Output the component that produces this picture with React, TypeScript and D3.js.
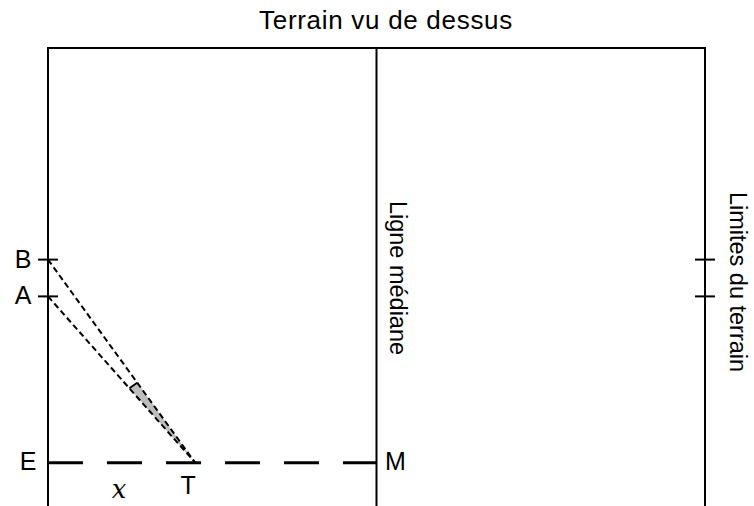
import React, { useRef, useEffect } from "react";
import * as d3 from "d3";

// field coordinates in metres: x = distance from goal line, y = distance from top touchline
const fieldLines = [
  { name: "goal", x: 0 },
  { name: "median", x: 50 },
  { name: "limit", x: 100 },
];
const posts = [
  { label: "B", y: 32.2 },
  { label: "A", y: 37.8 },
];
const lineY = 63.1; // E — M
const tryX = 22.4; // T
const markerFrac = 0.553;

const W = 754;
const H = 506;

export default function App() {
  const svgRef = useRef<SVGSVGElement>(null);

  useEffect(() => {
    const svg = d3.select(svgRef.current);
    svg.selectAll("*").remove();

    const x = d3.scaleLinear().domain([0, 100]).range([48, 705]);
    const y = d3.scaleLinear().domain([0, 70]).range([48, 508]);
    const font = "'Liberation Sans', Arial, sans-serif";

    svg.append("rect").attr("width", W).attr("height", H).attr("fill", "#fff");

    // title
    svg
      .append("text")
      .attr("x", 386)
      .attr("y", 20)
      .attr("dominant-baseline", "central")
      .attr("text-anchor", "middle")
      .attr("font-family", font)
      .attr("font-size", 26)
      .attr("letter-spacing", 0.7)
      .text("Terrain vu de dessus");

    // top touchline
    svg
      .append("line")
      .attr("x1", x(0))
      .attr("x2", x(100))
      .attr("y1", y(0))
      .attr("y2", y(0))
      .attr("stroke", "#000")
      .attr("stroke-width", 2);

    // vertical lines
    svg
      .selectAll(".vline")
      .data(fieldLines)
      .enter()
      .append("line")
      .attr("x1", (d) => x(d.x))
      .attr("x2", (d) => x(d.x))
      .attr("y1", y(0) - 1)
      .attr("y2", H)
      .attr("stroke", "#000")
      .attr("stroke-width", 2);

    // post ticks on both goal lines
    [0, 100].forEach((gx) => {
      svg
        .selectAll(null)
        .data(posts)
        .enter()
        .append("line")
        .attr("x1", x(gx) - 10)
        .attr("x2", x(gx) + 10)
        .attr("y1", (d) => y(d.y))
        .attr("y2", (d) => y(d.y))
        .attr("stroke", "#000")
        .attr("stroke-width", 2);
    });

    svg
      .selectAll(".postLabel")
      .data(posts)
      .enter()
      .append("text")
      .attr("x", x(0) - 25)
      .attr("y", (d) => y(d.y) - 1)
      .attr("dominant-baseline", "central")
      .attr("text-anchor", "middle")
      .attr("font-family", font)
      .attr("font-size", 25)
      .text((d) => d.label);

    // E — M dashed line
    svg
      .append("line")
      .attr("x1", x(0))
      .attr("x2", x(50))
      .attr("y1", y(lineY))
      .attr("y2", y(lineY))
      .attr("stroke", "#000")
      .attr("stroke-width", 3)
      .attr("stroke-dasharray", "35,24");

    const T: [number, number] = [x(tryX), y(lineY)];
    const pA: [number, number] = [x(0), y(posts[1].y)];
    const pB: [number, number] = [x(0), y(posts[0].y)];

    // shaded wedge: point on AT and its perpendicular foot on BT
    const P: [number, number] = [
      pA[0] + (T[0] - pA[0]) * markerFrac,
      pA[1] + (T[1] - pA[1]) * markerFrac,
    ];
    const dx = T[0] - pB[0];
    const dy = T[1] - pB[1];
    const len = Math.hypot(dx, dy);
    const ux = dx / len;
    const uy = dy / len;
    const proj = (P[0] - pB[0]) * ux + (P[1] - pB[1]) * uy;
    const Q: [number, number] = [pB[0] + proj * ux, pB[1] + proj * uy];

    svg
      .append("path")
      .attr("d", d3.line()([P, Q, T]) + "Z")
      .attr("fill", "#bdbdbd");
    svg
      .append("line")
      .attr("x1", P[0])
      .attr("y1", P[1])
      .attr("x2", Q[0])
      .attr("y2", Q[1])
      .attr("stroke", "#000")
      .attr("stroke-width", 1.8);

    // sight lines
    [pB, pA].forEach((p) => {
      svg
        .append("path")
        .attr("d", d3.line()([p, T]))
        .attr("fill", "none")
        .attr("stroke", "#000")
        .attr("stroke-width", 2)
        .attr("stroke-dasharray", "6,3.5");
    });

    // point labels
    const labels = [
      { t: "E", x: x(0) - 20, y: y(lineY) - 2 },
      { t: "M", x: x(50) + 19, y: y(lineY) - 2 },
      { t: "T", x: T[0] - 7, y: y(lineY) + 22 },
    ];
    svg
      .selectAll(".ptLabel")
      .data(labels)
      .enter()
      .append("text")
      .attr("x", (d) => d.x)
      .attr("y", (d) => d.y)
      .attr("dominant-baseline", "central")
      .attr("text-anchor", "middle")
      .attr("font-family", font)
      .attr("font-size", 25)
      .text((d) => d.t);

    svg
      .append("text")
      .attr("x", 119)
      .attr("y", 489)
      .attr("dominant-baseline", "central")
      .attr("text-anchor", "middle")
      .attr("font-family", "'DejaVu Serif', 'Liberation Serif', serif")
      .attr("font-style", "italic")
      .attr("font-size", 26)
      .text("x");

    // rotated line names
    const vLabels = [
      { t: "Ligne médiane", x: 398, y: 278 },
      { t: "Limites du terrain", x: 738, y: 282 },
    ];
    svg
      .selectAll(".vLabel")
      .data(vLabels)
      .enter()
      .append("text")
      .attr("transform", (d) => `translate(${d.x},${d.y}) rotate(90)`)
      .attr("dominant-baseline", "central")
      .attr("text-anchor", "middle")
      .attr("font-family", font)
      .attr("font-size", 23.5)
      .text((d) => d.t);
  }, []);

  return (
    <div style={{ position: "fixed", left: 0, top: 0 }}>
      <svg ref={svgRef} width={W} height={H} style={{ display: "block" }} />
    </div>
  );
}
